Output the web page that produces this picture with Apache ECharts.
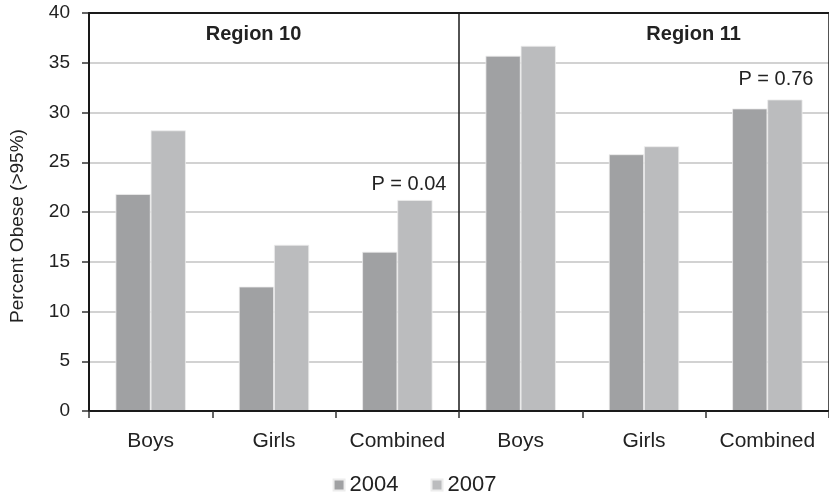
<!DOCTYPE html>
<html>
<head>
<meta charset="utf-8">
<script src="https://cdn.jsdelivr.net/npm/echarts@6/dist/echarts.min.js"></script>
<style>
html,body{margin:0;padding:0;background:#fff;}
#chart{width:829px;height:496px;}
</style>
</head>
<body>
<div id="chart"></div>
<script>
const categories = ['Boys', 'Girls', 'Combined', 'Boys', 'Girls', 'Combined'];
const values2004 = [21.8, 12.5, 16.0, 35.7, 25.8, 30.4];
const values2007 = [28.2, 16.7, 21.2, 36.7, 26.6, 31.3];
const seriesNames = ['2004', '2007'];
const yTicks = { min: 0, max: 40, interval: 5 };
const regionLabels = [
  { text: 'Region 10', cat: 1, value: 37.8 },
  { text: 'Region 11', cat: 4, value: 37.8 }
];
const pLabels = [
  { text: 'P = 0.04', cat: 2, value: 22.8 },
  { text: 'P = 0.76', cat: 5, value: 33.3 }
];
const regionDivider = 3; // boundary between the two regions, in category units

const FONT = 'Liberation Sans, Arial, sans-serif';
const TXT = '#222';
const LINE = '#1a1a1a';

const chart = echarts.init(document.getElementById('chart'));

const markData = [];
regionLabels.forEach(function (r, i) {
  markData.push({
    coord: [r.cat, r.value],
    label: {
      show: true, formatter: r.text, fontWeight: 'bold', fontSize: 20,
      fontFamily: FONT, color: TXT, offset: [i === 0 ? -38 : 32, 0]
    }
  });
});
pLabels.forEach(function (p, i) {
  markData.push({
    coord: [p.cat, p.value],
    label: {
      show: true, formatter: p.text, fontSize: 20,
      fontFamily: FONT, color: TXT, offset: [i === 0 ? -6 : -9, 0]
    }
  });
});

chart.setOption({
  animation: false,
  backgroundColor: '#fff',
  textStyle: { fontFamily: FONT, color: TXT },
  grid: { left: 87, top: 13, right: -2, bottom: 85 },
  legend: {
    data: seriesNames,
    bottom: -5,
    left: 'center',
    itemWidth: 11, itemHeight: 11, itemGap: 32,
    icon: 'rect',
    textStyle: { fontSize: 22, color: TXT, fontFamily: FONT }
  },
  xAxis: [
    {
      type: 'category',
      data: categories,
      axisLine: { lineStyle: { color: LINE, width: 2 } },
      axisTick: { show: true, interval: 0, length: 7, lineStyle: { color: '#333', width: 1.5 } },
      axisLabel: { interval: 0, fontSize: 21, color: TXT, margin: 20, fontFamily: FONT, hideOverlap: false },
      splitLine: { show: false },
      z: 5
    },
    {
      type: 'value',
      position: 'top',
      min: 0, max: categories.length, interval: regionDivider,
      axisLine: { show: true, onZero: false, lineStyle: { color: LINE, width: 2 } },
      axisTick: { show: false },
      axisLabel: { show: false },
      splitLine: { show: true, lineStyle: { color: LINE, width: 1.5 } },
      z: 5
    }
  ],
  yAxis: {
    type: 'value',
    min: yTicks.min, max: yTicks.max, interval: yTicks.interval,
    name: 'Percent Obese (>95%)',
    nameLocation: 'middle',
    nameGap: 62,
    nameTextStyle: { fontSize: 19, color: TXT, fontFamily: FONT, padding: [0, 28, 0, 0] },
    axisLine: { show: true, lineStyle: { color: LINE, width: 2 } },
    axisTick: { show: true, length: 7, lineStyle: { color: '#333', width: 1.5 } },
    axisLabel: { fontSize: 19, color: TXT, margin: 19, fontFamily: FONT },
    splitLine: { show: true, lineStyle: { color: '#d2d2d2', width: 2 } }
  },
  series: [
    {
      name: seriesNames[0], type: 'bar', data: values2004,
      barGap: '0%', barCategoryGap: '43%',
      itemStyle: { color: '#a0a1a3', borderColor: '#ececec', borderWidth: 0.8 }
    },
    {
      name: seriesNames[1], type: 'bar', data: values2007,
      barGap: '0%', barCategoryGap: '43%',
      itemStyle: { color: '#bbbcbe', borderColor: '#ececec', borderWidth: 0.8 },
      markPoint: {
        symbol: 'circle', symbolSize: 0,
        label: { position: 'inside' },
        data: markData
      }
    }
  ]
});
</script>
</body>
</html>
